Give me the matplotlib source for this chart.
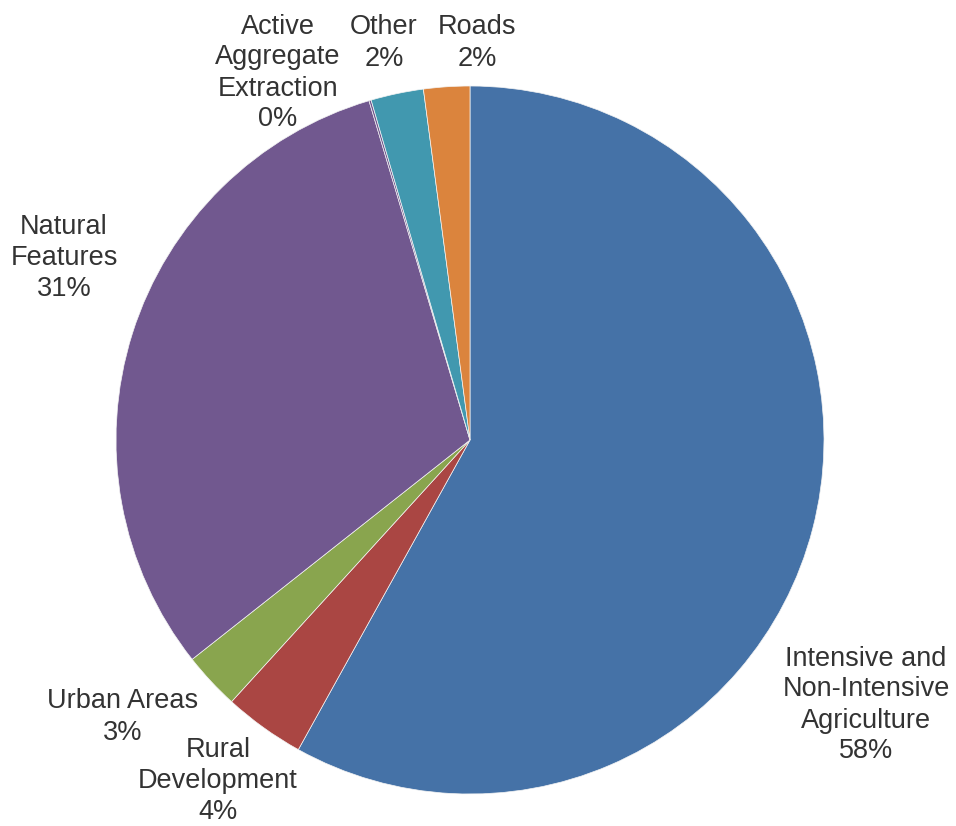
import matplotlib.pyplot as plt

plt.rcParams['font.family'] = ['Liberation Sans', 'DejaVu Sans']

# slices, clockwise from 12 o'clock
names = ["Intensive and\nNon-Intensive\nAgriculture", "Rural\nDevelopment", "Urban Areas",
         "Natural\nFeatures", "Active\nAggregate\nExtraction", "Other", "Roads"]
shares = [58.0, 3.7, 2.6, 31.0, 0.1, 2.4, 2.1]
pct_text = ["58%", "4%", "3%", "31%", "0%", "2%", "2%"]
colors = ["#4572A7", "#AA4643", "#89A54E", "#71588F", "#71588F", "#4198AF", "#DB843D"]

# label centres (pixels, measured from the top-left corner)
label_xy = [(866, 705), (218, 781), (123, 717), (64, 258), (278, 73), (384, 43), (477, 43)]

W, H = 956, 826
fig = plt.figure(figsize=(W / 100, H / 100), dpi=100)
ax = fig.add_axes([0, 0, 1, 1])

ax.pie(shares, colors=colors, startangle=90, counterclock=False,
       center=(470, H - 440), radius=354,
       wedgeprops=dict(edgecolor='#f4f4f4', linewidth=0.5))
ax.set_xlim(0, W)
ax.set_ylim(0, H)
ax.set_aspect('equal')
ax.axis('off')

for name, pct, (x, y) in zip(names, pct_text, label_xy):
    ax.text(x, H - y, name + "\n" + pct, ha='center', va='center',
            fontsize=19.5, color='#333333', linespacing=1.25)

fig.savefig("out.png", dpi=100)
